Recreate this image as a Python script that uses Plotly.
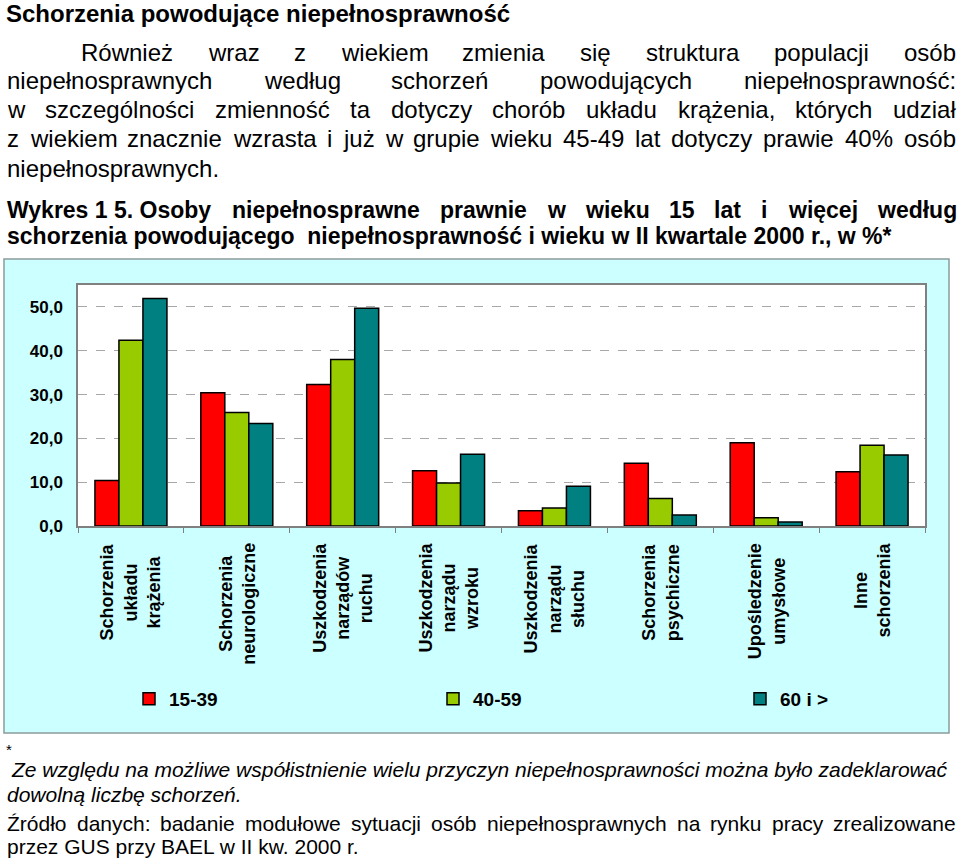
import plotly.graph_objects as go

# ---------------- data ----------------
categories = [
    "Schorzenia układu krążenia",
    "Schorzenia neurologiczne",
    "Uszkodzenia narządów ruchu",
    "Uszkodzenia narządu wzroku",
    "Uszkodzenia narządu słuchu",
    "Schorzenia psychiczne",
    "Upośledzenie umysłowe",
    "Inne schorzenia",
]
category_labels = [
    "Schorzenia<br>układu<br>krążenia",
    "Schorzenia<br>neurologiczne",
    "Uszkodzenia<br>narządów<br>ruchu",
    "Uszkodzenia<br>narządu<br>wzroku",
    "Uszkodzenia<br>narządu<br>słuchu",
    "Schorzenia<br>psychiczne",
    "Upośledzenie<br>umysłowe",
    "Inne<br>schorzenia",
]
series_names = ["15-39", "40-59", "60 i >"]
values_15_39 = [10.4, 30.4, 32.3, 12.6, 3.5, 14.3, 19.0, 12.4]
values_40_59 = [42.4, 25.9, 38.0, 9.8, 4.1, 6.3, 1.9, 18.4]
values_60_plus = [51.9, 23.4, 49.7, 16.4, 9.1, 2.5, 0.9, 16.2]
y_tick_values = [0, 10, 20, 30, 40, 50]
y_tick_labels = ["0,0", "10,0", "20,0", "30,0", "40,0", "50,0"]

series_colors = ["#FF0000", "#99CC00", "#008080"]

# ---------------- layout helpers ----------------
W, H = 960, 859
L, R, T, B = 78, 925, 285, 526
FONT = "Liberation Sans, Arial, sans-serif"


def px(x):
    return (x - L) / (R - L)


def py(y):
    return (B - y) / (B - T)


REG = {" ": 278, "%": 889, "*": 389, ",": 278, "-": 333, ".": 278, ":": 278,
       "A": 667, "B": 667, "E": 667, "G": 778, "I": 278, "L": 556, "O": 778,
       "R": 722, "S": 667, "U": 722, "W": 944, "Z": 611, "Ź": 611,
       "a": 556, "b": 556, "c": 500, "d": 556, "e": 556, "f": 278, "g": 556,
       "h": 556, "i": 222, "j": 222, "k": 500, "l": 222, "m": 833, "n": 556,
       "o": 556, "p": 556, "r": 333, "s": 500, "t": 278, "u": 556, "w": 722,
       "y": 500, "z": 500, "ą": 556, "ę": 556, "ł": 222, "ń": 556, "ó": 556,
       "ś": 500, "ć": 500, "ż": 500, "ź": 500}
BOLD = {" ": 278, "%": 889, "*": 389, ",": 278, "-": 333, ".": 278, ":": 333,
        "I": 278, "O": 778, "W": 944, "S": 667,
        "a": 556, "b": 611, "c": 556, "d": 611, "e": 556, "g": 611, "h": 611,
        "i": 278, "j": 278, "k": 556, "l": 278, "m": 889, "n": 611, "o": 611,
        "p": 611, "r": 389, "s": 556, "t": 333, "u": 611, "w": 778, "y": 556,
        "z": 500, "ą": 556, "ę": 556, "ł": 278, "ń": 611, "ó": 611, "ś": 556,
        "ć": 556, "ż": 500}


def text_width(s, size, bold=False):
    table = BOLD if bold else REG
    return sum(table.get(ch, 556) for ch in s) * size / 1000.0


annotations = []


def add_text(text, x, y, size, bold=False, italic=False, xanchor="left"):
    t = text
    if bold:
        t = "<b>" + t + "</b>"
    if italic:
        t = "<i>" + t + "</i>"
    annotations.append(dict(
        text=t, x=px(x), y=py(y), xref="paper", yref="paper",
        xanchor=xanchor, yanchor="middle", showarrow=False,
        borderpad=0, font=dict(family=FONT, size=size, color="black")))


def add_justified(words, x0, x1, y, size, bold=False, italic=False):
    widths = [text_width(w, size, bold) for w in words]
    gap = (x1 - x0 - sum(widths)) / (len(words) - 1)
    x = x0
    for w, wd in zip(words, widths):
        add_text(w, x, y, size, bold, italic)
        x += wd + gap


# ---------------- text above the chart ----------------
add_text("Schorzenia powodujące niepełnosprawność", 5, 13, 24, bold=True)

RIGHT = 955
add_justified("Również wraz z wiekiem zmienia się struktura populacji osób".split(),
              80, RIGHT, 52, 24)
add_justified("niepełnosprawnych według schorzeń powodujących niepełnosprawność:".split(),
              6, RIGHT, 81, 24)
add_justified("w szczególności zmienność ta dotyczy chorób układu krążenia, których udział".split(),
              6, RIGHT, 110, 24)
add_justified("z wiekiem znacznie wzrasta i już w grupie wieku 45-49 lat dotyczy prawie 40% osób".split(),
              6, RIGHT, 139, 24)
add_text("niepełnosprawnych.", 6, 168, 24)

add_justified(["Wykres 1 5. Osoby"] + "niepełnosprawne prawnie w wieku 15 lat i więcej według".split(),
              6, RIGHT, 210, 23, bold=True)
add_text("schorzenia powodującego  niepełnosprawność i wieku w II kwartale 2000 r., w %*",
         6, 236, 23, bold=True)

# ---------------- footnotes ----------------
add_text("*", 5, 749, 15)
add_text("Ze względu na możliwe współistnienie wielu przyczyn niepełnosprawności można było zadeklarować",
         10, 769, 21, italic=True)
add_text("dowolną liczbę schorzeń.", 6, 794, 21, italic=True)
add_justified("Źródło danych: badanie modułowe sytuacji osób niepełnosprawnych na rynku pracy zrealizowane".split(),
              6, RIGHT, 823, 21)
add_text("przez GUS przy BAEL w II kw. 2000 r.", 6, 847, 21)

# ---------------- category labels ----------------
for cat, lab in zip(categories, category_labels):
    annotations.append(dict(
        text="<b>" + lab + "</b>", x=cat, xref="x", y=py(542), yref="paper",
        xanchor="center", yanchor="top", textangle=-90, align="center",
        showarrow=False, borderpad=0,
        font=dict(family=FONT, size=18, color="black")))

# ---------------- figure ----------------
fig = go.Figure()
legend_ids = ["legend", "legend2", "legend3"]
for name, vals, col, lg in zip(series_names,
                               [values_15_39, values_40_59, values_60_plus],
                               series_colors, legend_ids):
    fig.add_trace(go.Bar(
        name=name, x=categories, y=vals, legend=lg,
        marker=dict(color=col, line=dict(color="black", width=1.5))))

shapes = [
    dict(type="rect", xref="paper", yref="paper",
         x0=px(4), x1=px(949), y0=py(733), y1=py(259),
         fillcolor="#CCFFFF", line=dict(color="#8C9C9C", width=1.5), layer="below"),
    dict(type="rect", xref="paper", yref="paper", x0=0, x1=1, y0=0, y1=1,
         fillcolor="white", line=dict(width=0), layer="below"),
]


def legend_at(xpix):
    return dict(orientation="h", x=px(xpix), xanchor="left",
                y=py(699), yanchor="middle",
                bgcolor="rgba(0,0,0,0)", borderwidth=0,
                font=dict(family=FONT, size=19, color="black", weight="bold"))


fig.update_layout(
    width=W, height=H,
    margin=dict(l=L, r=W - R, t=T, b=H - B, autoexpand=False),
    paper_bgcolor="white", plot_bgcolor="white",
    barmode="group", bargap=0.32, bargroupgap=0,
    font=dict(family=FONT, color="black"),
    showlegend=True,
    legend=legend_at(129),
    legend2=legend_at(433),
    legend3=legend_at(740),
    annotations=annotations,
    shapes=shapes,
)

fig.update_xaxes(
    type="category", showticklabels=False, tickson="boundaries",
    ticks="outside", ticklen=5, tickcolor="#808080", tickwidth=1,
    showline=True, linecolor="#808080", linewidth=1.5, mirror=True,
    showgrid=False, zeroline=False,
)
fig.update_yaxes(
    range=[0, 55], tickvals=y_tick_values, ticktext=y_tick_labels,
    tickfont=dict(family=FONT, size=17, color="black", weight="bold"),
    ticklabelstandoff=10, ticks="",
    showline=True, linecolor="#808080", linewidth=1.5, mirror=True,
    showgrid=True, gridcolor="#A8A8A8", gridwidth=1, griddash="dash",
    zeroline=False,
)

fig.write_html(
    "out.html",
    config={"displayModeBar": False},
    post_script="document.body.style.margin='0px';document.body.style.overflow='hidden';",
)
